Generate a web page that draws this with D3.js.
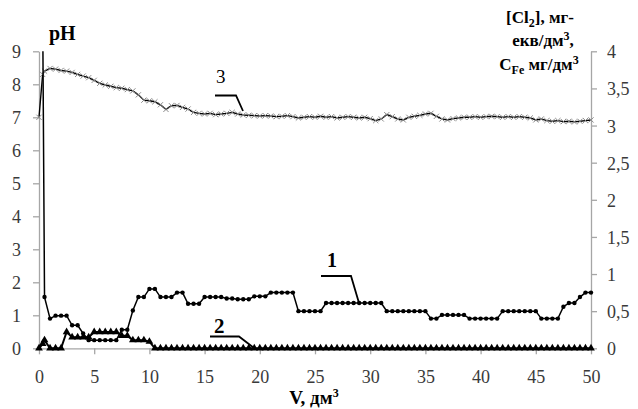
<!DOCTYPE html>
<html><head><meta charset="utf-8">
<script src="https://cdn.jsdelivr.net/npm/d3@7/dist/d3.min.js"></script>
<style>
html,body{margin:0;padding:0;background:#fff;}
svg{display:block;}
svg text{font-family:"Liberation Serif","DejaVu Serif",serif !important;}
</style></head>
<body>
<svg id="chart" width="638" height="409"></svg>
<script>
// ---- data ----
const volume = [0,0.33,0.5,1,1.5,2,2.5,3,3.5,4,4.5,5,5.5,6,6.5,7,7.5,8,8.5,9,9.5,10,
10.5,11,11.5,12,12.5,13,13.5,14,14.5,15,15.5,16,16.5,17,17.5,18,18.5,19,19.5,20,
20.5,21,21.5,22,22.5,23,23.5,24,24.5,25,25.5,26,26.5,27,27.5,28,28.5,29,29.5,30,
30.5,31,31.5,32,32.5,33,33.5,34,34.5,35,35.5,36,36.5,37,37.5,38,38.5,39,39.5,40,
40.5,41,41.5,42,42.5,43,43.5,44,44.5,45,45.5,46,46.5,47,47.5,48,48.5,49,49.5,50];

// series 1: [Cl2], right axis
const chlorine = [null,4.6,0.69,0.40,0.44,0.44,0.44,0.31,0.31,0.20,0.11,0.11,0.11,0.11,0.11,0.11,0.25,0.25,0.51,0.69,0.69,0.80,
0.80,0.69,0.69,0.69,0.75,0.75,0.60,0.60,0.60,0.69,0.69,0.69,0.69,0.67,0.67,0.66,0.66,0.66,0.70,0.70,
0.70,0.75,0.75,0.75,0.75,0.75,0.50,0.50,0.50,0.50,0.50,0.61,0.61,0.61,0.61,0.61,0.61,0.61,0.61,0.61,
0.61,0.61,0.50,0.50,0.50,0.50,0.50,0.50,0.50,0.50,0.40,0.40,0.45,0.45,0.45,0.45,0.45,0.40,0.40,0.40,
0.40,0.40,0.40,0.50,0.50,0.50,0.50,0.50,0.50,0.50,0.40,0.40,0.40,0.40,0.56,0.61,0.61,0.69,0.75,0.75];

// series 2: C_Fe, right axis
const iron = [0,0.06,0.11,0,0,0,0.22,0.15,0.15,0.15,0.15,0.22,0.22,0.22,0.22,0.22,0.17,0.17,0.11,0.11,0.11,0.09,
0,0,0,0,0,0,0,0,0,0,0,0,0,0,0,0,0,0,0,0,
0,0,0,0,0,0,0,0,0,0,0,0,0,0,0,0,0,0,0,0,
0,0,0,0,0,0,0,0,0,0,0,0,0,0,0,0,0,0,0,0,
0,0,0,0,0,0,0,0,0,0,0,0,0,0,0,0,0,0,0,0];

// series 3: pH, left axis
const pH = [7.0,8.3,8.4,8.48,8.46,8.42,8.4,8.36,8.3,8.25,8.2,8.12,8.03,7.98,7.94,7.9,7.88,7.84,7.8,7.68,7.52,7.5,
7.47,7.38,7.24,7.35,7.36,7.3,7.25,7.15,7.12,7.1,7.12,7.08,7.1,7.12,7.15,7.1,7.07,7.06,7.05,7.04,
7.05,7.04,7.02,7.03,7.05,7.02,6.98,7.0,7.02,7.0,7.03,7.0,7.02,6.98,7.0,7.02,7.0,6.98,7.0,6.96,
6.9,6.95,7.08,7.02,6.95,6.92,7.0,7.03,7.06,7.1,7.12,7.03,6.95,6.92,6.96,6.98,7.0,7.0,7.02,7.0,
7.02,7.03,7.02,7.0,7.02,7.0,7.02,7.0,6.98,6.92,6.95,6.9,6.88,6.9,6.87,6.88,6.86,6.88,6.9,6.92];

const xTicks = [0,5,10,15,20,25,30,35,40,45,50];
const leftTicks = [0,1,2,3,4,5,6,7,8,9];
const rightTicks = [0,0.5,1,1.5,2,2.5,3,3.5,4];

// ---- layout ----
const L = 39, R = 591, T = 51.3, B = 348.3;
const svg = d3.select("#chart");
const x = d3.scaleLinear().domain([0,50]).range([L,R]);
const yL = d3.scaleLinear().domain([0,9]).range([B,T]);
const yR = d3.scaleLinear().domain([0,4]).range([B,T]);
const axisColor = "#a6a6a6";
const labelColor = "#3a3a3a";
const FONT = "'Liberation Serif','DejaVu Serif',serif";

svg.append("defs").append("clipPath").attr("id","clip")
  .append("rect").attr("x",L-10).attr("y",T).attr("width",R-L+20).attr("height",409-T);

function styleAxis(g){
  g.attr("font-family",FONT);
  g.select(".domain").attr("stroke",axisColor).attr("stroke-width",1.3);
  g.selectAll(".tick line").attr("stroke",axisColor).attr("stroke-width",1.3);
  g.selectAll(".tick text").attr("fill",labelColor).attr("font-size",18).attr("font-family",FONT);
}

const gx = svg.append("g").attr("transform",`translate(0,${B})`)
  .call(d3.axisBottom(x).tickValues(xTicks).tickSize(6).tickSizeOuter(0).tickPadding(16).tickFormat(d3.format("d")));
styleAxis(gx);

const gl = svg.append("g").attr("transform",`translate(${L},0)`)
  .call(d3.axisLeft(yL).tickValues(leftTicks).tickSize(6).tickSizeOuter(0).tickPadding(12).tickFormat(d3.format("d")));
styleAxis(gl);
gl.selectAll(".tick text").attr("dy","0.36em");

const gr = svg.append("g").attr("transform",`translate(${R},0)`)
  .call(d3.axisRight(yR).tickValues(rightTicks).tickSize(6).tickSizeOuter(0).tickPadding(10)
    .tickFormat(d => String(d).replace(".",",")));
styleAxis(gr);
gr.selectAll(".tick text").attr("dy","0.36em");

// ---- series ----
const pts = (vals) => volume.map((v,i)=>({v, y: vals[i]})).filter(d => d.y !== null);

// series 3 pH
const d3pts = pts(pH);
svg.append("path").datum(d3pts)
  .attr("fill","none").attr("stroke","#000").attr("stroke-width",1.4)
  .attr("d", d3.line().x(d=>x(d.v)).y(d=>yL(d.y)));
const crossSize = 2.6;
svg.append("g").selectAll("path").data(d3pts).join("path")
  .attr("d", d => {
    const cx = x(d.v), cy = yL(d.y), s = crossSize;
    return `M${cx-s},${cy-s}L${cx+s},${cy+s}M${cx-s},${cy+s}L${cx+s},${cy-s}`;
  })
  .attr("stroke","#8c8c8c").attr("stroke-width",1);

// series 2 iron
const d2pts = pts(iron);
svg.append("path").datum(d2pts)
  .attr("fill","none").attr("stroke","#000").attr("stroke-width",2)
  .attr("d", d3.line().x(d=>x(d.v)).y(d=>yR(d.y)));
svg.append("g").selectAll("path").data(d2pts).join("path")
  .attr("d", d3.symbol().type(d3.symbolTriangle).size(26))
  .attr("transform", d => `translate(${x(d.v)},${yR(d.y)})`)
  .attr("fill","#000");

// series 1 chlorine
const d1pts = pts(chlorine);
const g1 = svg.append("g").attr("clip-path","url(#clip)");
g1.append("path").datum(d1pts)
  .attr("fill","none").attr("stroke","#000").attr("stroke-width",1.5)
  .attr("d", d3.line().x(d=>x(d.v)).y(d=>yR(d.y)));
g1.selectAll("circle").data(d1pts).join("circle")
  .attr("cx", d=>x(d.v)).attr("cy", d=>yR(d.y)).attr("r",2.2).attr("fill","#000");

// ---- titles ----
svg.append("text").attr("x",49).attr("y",40).attr("font-size",20).attr("font-weight","bold")
  .attr("font-family",FONT).attr("fill","#000").text("pH");

const rt = svg.append("g").attr("font-size",17).attr("font-weight","bold").attr("fill","#000")
  .attr("font-family",FONT).attr("text-anchor","middle");
const t1 = rt.append("text").attr("x",540).attr("y",23);
t1.append("tspan").text("[Cl");
t1.append("tspan").attr("font-size",12).attr("dy",4).text("2");
t1.append("tspan").attr("dy",-4).text("], мг-");
const t2 = rt.append("text").attr("x",543).attr("y",46);
t2.append("tspan").text("екв/дм");
t2.append("tspan").attr("font-size",12).attr("dy",-6).text("3");
t2.append("tspan").attr("dy",6).text(",");
const t3 = rt.append("text").attr("x",539).attr("y",70);
t3.append("tspan").text("C");
t3.append("tspan").attr("font-size",12).attr("dy",4).text("Fe");
t3.append("tspan").attr("dy",-4).text(" мг/дм");
t3.append("tspan").attr("font-size",12).attr("dy",-6).text("3");

const xt = svg.append("text").attr("x",314).attr("y",404).attr("font-size",19).attr("font-weight","bold")
  .attr("font-family",FONT).attr("text-anchor","middle").attr("fill","#000");
xt.append("tspan").text("V, дм");
xt.append("tspan").attr("font-size",12).attr("dy",-7).text("3");

// ---- series labels with leaders ----
const leader = (pts) => svg.append("path").attr("d", d3.line()(pts))
  .attr("fill","none").attr("stroke","#000").attr("stroke-width",1.8);
svg.append("text").attr("x",216).attr("y",83).attr("font-size",19).attr("font-family",FONT).attr("fill","#000").text("3");
leader([[215,95.5],[236,95.5],[243,111]]);
svg.append("text").attr("x",327).attr("y",267).attr("font-size",20).attr("font-weight","bold").attr("font-family",FONT).attr("fill","#000").text("1");
leader([[321,276],[351,276],[359,303]]);
svg.append("text").attr("x",214).attr("y",333).attr("font-size",21).attr("font-weight","bold").attr("font-family",FONT).attr("fill","#000").text("2");
leader([[210,336.5],[239,336.5],[254,348]]);
</script>
</body></html>
